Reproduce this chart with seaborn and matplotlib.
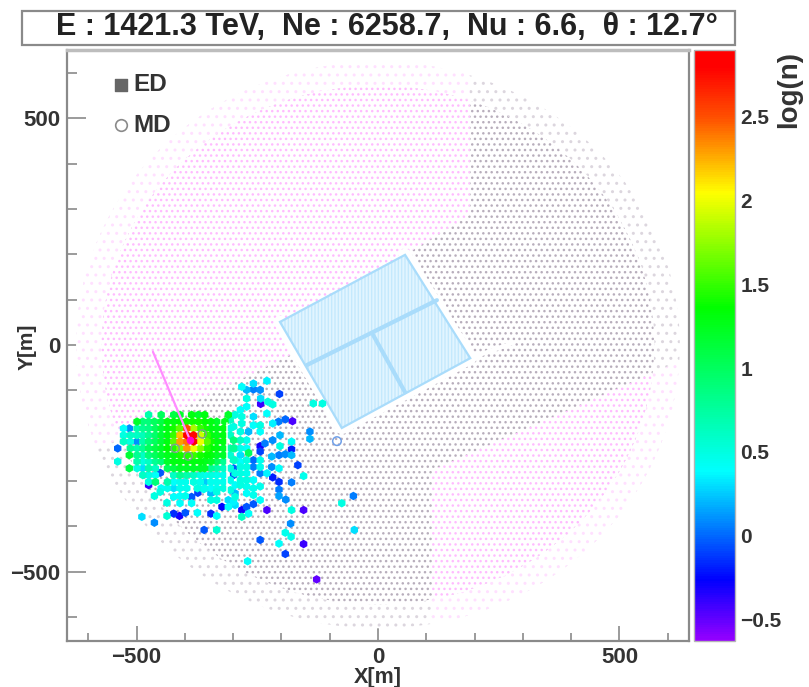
import numpy as np
import pandas as pd
import matplotlib
matplotlib.use("Agg")
import matplotlib.pyplot as plt
from matplotlib.patches import Polygon, Circle, Rectangle
from matplotlib.colors import LinearSegmentedColormap, Normalize
from matplotlib.cm import ScalarMappable
from matplotlib.ticker import MultipleLocator
import seaborn as sns

# ---- values ----
title = "E : 1421.3 TeV,  Ne : 6258.7,  Nu : 6.6,  θ : 12.7°"

# dense shower core, row by row: y, then x and log(n) of each struck detector
core_y = [-154, -169, -184, -199, -213, -228, -243, -257, -272, -287, -302, -316]
core_x = [
    [-475, -449, -423, -410, -386, -372, -359, -310],
    [-499, -487, -475, -463, -449, -436, -423, -410, -397, -384, -372, -359, -346, -334, -317],
    [-527, -515, -499, -487, -475, -461, -449, -436, -423, -411, -396, -382, -368, -359, -346, -334, -320],
    [-527, -513, -499, -487, -475, -461, -449, -436, -423, -410, -396, -382, -368, -354, -346, -334, -320],
    [-527, -513, -499, -487, -475, -461, -449, -436, -423, -410, -396, -382, -368, -354, -346, -334, -320],
    [-539, -513, -499, -487, -475, -461, -449, -436, -423, -410, -396, -382, -368, -354, -346, -334, -320],
    [-515, -499, -487, -475, -461, -449, -436, -423, -410, -396, -382, -368, -354, -346, -334, -320],
    [-539, -499, -487, -475, -461, -449, -436, -423, -410, -396, -382, -368, -359, -346, -334, -320],
    [-515, -499, -487, -475, -461, -436, -423, -410, -396, -382, -368, -359, -346, -334, -320],
    [-487, -475, -461, -423, -410, -396, -382, -368, -359, -346, -334, -320],
    [-475, -461, -436, -423, -410, -399, -382, -368, -359, -346, -334, -320],
    [-449, -436, -423, -410, -396, -374, -359, -346, -334, -320],
]
core_log = [
    [0.7, 1.0, 1.1, 1.2, 1.3, 1.2, 1.3, 1.2],
    [1.2, 0.9, 0.9, 1.0, 1.1, 1.3, 1.3, 1.35, 1.4, 1.4, 1.4, 1.35, 1.3, 1.2, 1.25],
    [0.4, 0.1, 0.7, 0.8, 0.85, 1.0, 1.15, 1.3, 1.4, 1.6, 2.5, 1.8, 1.5, 1.4, 1.3, 1.25, 1.3],
    [0.5, 0.6, 0.6, 0.65, 0.8, 0.95, 1.15, 1.3, 1.5, 2.2, 2.8, 2.75, 1.9, 1.5, 1.3, 1.25, 1.3],
    [0.6, 0.5, 0.1, 0.7, 0.9, 1.0, 1.15, 1.3, 1.6, 2.3, 2.4, 2.85, 2.0, 1.6, 1.4, 1.3, 1.3],
    [0.0, 0.8, 0.7, 0.8, 1.0, 1.1, 1.2, 1.35, 1.45, 1.7, 2.3, 2.0, 1.7, 1.45, 1.35, 1.3, 1.2],
    [1.15, 0.8, 0.6, 0.9, 1.0, 1.15, 1.25, 1.3, 1.4, 1.45, 1.5, 1.4, 1.35, 1.3, 1.2, 1.2],
    [0.5, 0.7, 0.5, 0.6, 0.8, 0.9, 1.2, 1.3, 1.3, 1.3, 1.3, 1.3, 1.25, 1.2, 1.0, 0.8],
    [1.1, 0.5, 0.3, 0.7, 0.6, 1.0, 1.1, 1.2, 1.2, 1.2, 1.2, 1.2, 0.8, 0.7, 0.6],
    [0.6, 0.5, 0.4, 0.6, 0.8, 0.7, 0.6, 0.5, 0.45, 0.5, 0.45, 0.45],
    [0.5, 0.9, 0.7, 0.4, 0.45, 0.45, 0.5, 0.45, 0.25, 0.45, 0.45, 0.45],
    [0.4, 0.45, 0.3, 0.45, 0.45, 0.5, 0.45, 0.4, 0.45, 0.5],
]

# scattered struck detectors away from the core
hit_x = [-230, -282, -258, -258, -272, -244, -204, -243, -243, -272, -228, -218, -230,
         -272, -285, -296, -258, -282, -218, -206, -192, -177, -306, -282, -244, -258, -299,
         -268, -244, -285, -141, -141, -203, -218, -234, -179, -244, -203, -299, -285, -272,
         -244, -179, -220, -205, -192, -179, -268, -285, -299, -258, -244, -258, -244, -166,
         -220, -205, -299, -299, -285, -272, -299, -244, -230, -218, -205, -179, -154, -272,
         -258, -285, -205, -205, -191, -272, -296, -258, -272, -282, -244, -258, -299, -310,
         -323, -310, -296, -230, -179, -154, -268, -282, -51, -75, -181, -49, -192, -180, -205,
         -154, -244, -192, -270, -127, -360, -334, -134, -115, -489, -463, -411, -423, -399,
         -437, -374, -346, -334, -386, -373, -410, -437, -423, -451, -463, -410, -399, -386,
         -346, -361, -334, -346, -334, -475, -451,
         -306, -306, -306, -296, -285, -272, -306, -296, -285, -272, -296, -285, -272, -306,
         -306, -296, -285, -272, -258, -244, -306, -296]
hit_y = [-79, -92, -85, -98, -99, -99, -108, -118, -130, -118, -125, -131, -151,
         -136, -143, -154, -158, -158, -173, -169, -164, -168, -165, -173, -177, -177, -180,
         -191, -191, -191, -191, -207, -199, -210, -217, -213, -223, -223, -210, -210, -210,
         -235, -230, -246, -243, -241, -243, -238, -243, -228, -254, -254, -269, -269, -265,
         -269, -272, -272, -287, -269, -269, -254, -283, -283, -292, -302, -303, -289, -298,
         -316, -298, -319, -333, -341, -327, -327, -351, -357, -364, -342, -331, -346, -342,
         -357, -357, -353, -364, -364, -364, -372, -379, -333, -349, -394, -408, -414, -423, -438,
         -439, -430, -461, -477, -517, -408, -408, -129, -129, -379, -392, -377, -372, -370,
         -377, -370, -372, -377, -335, -326, -349, -348, -335, -324, -333, -333, -333, -349,
         -327, -318, -324, -342, -342, -309, -282,
         -184, -199, -228, -228, -228, -228, -243, -254, -258, -254, -283, -283, -283, -272,
         -298, -309, -309, -312, -298, -312, -320, -335]
hit_log = [0.35, 0.4, 0.3, 0.05, 0.2, 0.1, -0.1, 0.3, -0.4, 0.5, 0.5, 0.5, 0.4,
           0.4, 0.4, 0.5, 0.3, 0.5, 0.35, 0.05, 0.0, -0.45, 0.6, 0.5, 0.5, 0.4, 0.5,
           0.2, 0.4, 0.5, 0.1, 0.2, 0.2, 0.1, 0.05, 0.4, -0.3, 0.5, 0.9, 0.6, 0.45,
           -0.1, -0.2, 0.2, 0.05, 0.1, 0.2, 1.0, 0.3, 0.8, 0.0, 0.45, 0.05, 0.45, -0.1,
           0.1, 0.4, -0.05, -0.1, 0.5, 0.5, 0.6, 0.05, 0.35, -0.2, -0.15, 0.05, 0.45, 0.5,
           0.45, 0.5, 0.05, 0.15, 0.1, 0.4, 0.2, -0.05, -0.05, -0.3, 0.4, 0.45, 0.35, 0.3,
           -0.25, 0.4, 0.3, -0.45, 0.5, -0.45, 0.4, 0.6, 0.05, 0.5, 0.1, 0.3, 0.45, 0.45, 0.4,
           -0.4, -0.05, -0.1, 0.4, -0.5, -0.05, 0.55, 0.5, 0.5, 0.3, 0.1, -0.3, -0.15, -0.05,
           0.55, 0.4, -0.15, 0.4, -0.05, -0.1, 0.4, 0.5, 0.4, 0.5, 0.5, 0.4, 0.45, 0.4,
           0.2, 0.45, 0.5, 0.5, 0.5, -0.4, -0.05,
           0.5, 0.6, 0.7, 0.5, 0.45, 0.4, 0.55, 0.5, 0.4, 0.5, 0.5, 0.5, 0.45, 0.5,
           0.45, 0.4, 0.5, 0.45, 0.4, 0.45, 0.5, 0.5]

# fired muon detectors (open rings)
md_x = [-420, -393, -364, -85]
md_y = [-228, -245, -196, -212]

# detector-field outlines
r_outer, r_inner = 625, 572
pink_upper = [(-800, -345), (-182, -22), (-203, 51), (56, 199), (190, 287), (190, 800), (-800, 800)]
pink_lower = [(112, -276), (569, -62), (800, 46), (800, -800), (112, -800)]
pond = [(-203, 51), (56, 199), (191, -29), (-75, -183)]
moat_edges = ([56, 191, -75, -203], [199, -29, -183, 51])
moat_spur = ([191, 280], [-29, 5])
pond_div_a = ([-147, 122], [-44, 99])
pond_div_b = ([-10, 56], [22, -104])
shower_axis = ([-466, -389], [-15, -210])
gap_line = ([-313, -313], [-173, -327])

cbar_ticks = [-0.5, 0, 0.5, 1, 1.5, 2, 2.5]
cbar_labels = ["\u22120.5", "0", "0.5", "1", "1.5", "2", "2.5"]
xy_major = [-500, 0, 500]
xy_major_labels = ["\u2212500", "0", "500"]

vmin, vmax = -0.63, 2.9
cstops = [(-0.63, "#9400ff"), (-0.27, "#0000ff"), (0.38, "#00ffff"), (1.36, "#00ff00"),
          (2.05, "#ffff00"), (2.5, "#ff5000"), (2.8, "#ff0000"), (2.9, "#ff0000")]

# ---- assembling ----
W, H = 809, 687
sns.set_theme(style="white")
FONT = ["Liberation Sans", "DejaVu Sans"]
plt.rcParams["font.family"] = FONT
plt.rcParams["font.weight"] = "bold"
plt.rcParams["hatch.linewidth"] = 1.0
DARK, FRAME = "#333333", "#8a8a8a"
PINK, GREY = "#ffbcff", "#b8aebc"
PINK_RING, GREY_RING = "#ffe0ff", "#dcd6de"

fig = plt.figure(figsize=(W / 100, H / 100), dpi=100)
ax = fig.add_axes([67 / W, 1 - 641 / H, (689 - 67) / W, (641 - 50) / H])
ax.set_xlim(-644, 644)
ax.set_ylim(-653, 651)


def field(verts, color, hatch, clip, z):
    p = Polygon(verts, closed=True, facecolor="white", edgecolor=color, hatch=hatch, lw=0, zorder=z)
    ax.add_patch(p)
    p.set_clip_path(clip)


square = [(-800, -800), (800, -800), (800, 800), (-800, 800)]
outer = Circle((0, 0), r_outer, transform=ax.transData)
inner = Circle((0, 0), r_inner, transform=ax.transData)
field(square, GREY_RING, "..", outer, 1)
field(pink_upper, PINK_RING, "..", outer, 1.1)
field(pink_lower, PINK_RING, "..", outer, 1.1)
ax.add_patch(Circle((0, 0), r_inner, facecolor="white", edgecolor="none", zorder=1.2))
field(square, GREY, "...", inner, 1.3)
field(pink_upper, PINK, "...", inner, 1.4)
field(pink_lower, PINK, "...", inner, 1.4)

# white moat along the grey-field sides and the pond
ax.plot(*moat_edges, color="white", lw=9, zorder=2)
ax.plot(*moat_spur, color="white", lw=3, zorder=2)
ax.add_patch(Polygon(pond, closed=True, facecolor="#e2f5ff", edgecolor="#c4e9fd", hatch="|||||", lw=0, zorder=2.1))
ax.add_patch(Polygon(pond, closed=True, fill=False, edgecolor="#a9dcfb", lw=1.6, zorder=2.2))
ax.plot(*pond_div_a, color="#a9dcfb", lw=3, zorder=2.3)
ax.plot(*pond_div_b, color="#a9dcfb", lw=3, zorder=2.3)

core_df = pd.DataFrame({
    "x": [v for row in core_x for v in row],
    "y": [yy for yy, row in zip(core_y, core_x) for _ in row],
    "log_n": [v for row in core_log for v in row],
})
hits = pd.concat([pd.DataFrame({"x": hit_x, "y": hit_y, "log_n": hit_log}), core_df], ignore_index=True)

norm = Normalize(vmin, vmax)
cmap = LinearSegmentedColormap.from_list("rootrainbow", [((v - vmin) / (vmax - vmin), c) for v, c in cstops])
sns.scatterplot(data=hits.sort_values("log_n"), x="x", y="y", hue="log_n", palette=cmap, hue_norm=norm,
                marker="h", s=38, linewidth=0, legend=False, ax=ax, zorder=3)

ax.plot(*gap_line, color="white", lw=1.3, alpha=0.8, zorder=3.5)
ax.plot(*shower_axis, color="#ff8cff", lw=1.6, zorder=3.6)
ax.plot(shower_axis[0][1], shower_axis[1][1], marker="o", ms=4.5, color="#ff00d0", zorder=3.7)
sns.scatterplot(x=md_x[:3], y=md_y[:3], marker="o", s=34, facecolor="none", edgecolor="#7f9f8f", linewidth=1, ax=ax, zorder=4)
sns.scatterplot(x=md_x[3:], y=md_y[3:], marker="o", s=38, facecolor="none", edgecolor="#6f9fe8", linewidth=1.1, ax=ax, zorder=4)

# axes furniture
ax.set_xticks(xy_major, xy_major_labels)
ax.set_yticks(xy_major, xy_major_labels)
ax.xaxis.set_minor_locator(MultipleLocator(100))
ax.yaxis.set_minor_locator(MultipleLocator(100))
ax.tick_params(axis="x", which="major", direction="in", length=11, width=1.2, color=FRAME, labelsize=16, labelcolor=DARK, pad=4, bottom=True)
ax.tick_params(axis="x", which="minor", direction="in", length=6, width=1.2, color=FRAME, bottom=True)
ax.tick_params(axis="y", which="major", direction="in", length=14, width=1.2, color=FRAME, labelsize=16, labelcolor=DARK, pad=5, left=True)
ax.tick_params(axis="y", which="minor", direction="in", length=7, width=1.2, color=FRAME, left=True)
for s in ax.spines.values():
    s.set_color(FRAME)
    s.set_linewidth(1.6)
ax.spines["top"].set_color("#bdbdbd")
ax.spines["top"].set_linewidth(2.5)
ax.set_xlabel("")
ax.set_ylabel("")
fig.text(378 / W, 1 - 678 / H, "X[m]", ha="center", va="center", fontsize=15.5, color=DARK, fontweight="bold")
fig.text(27 / W, 1 - 347 / H, "Y[m]", ha="center", va="center", rotation=90, fontsize=15, color=DARK, fontweight="bold")

# legend
ax.scatter([0.0868], [0.941], transform=ax.transAxes, marker="s", s=65, color="#666666", zorder=5, clip_on=False)
ax.scatter([0.0868], [0.873], transform=ax.transAxes, marker="o", s=70, facecolor="white", edgecolor="#8a8a8a", linewidth=1.2, zorder=5)
ax.text(0.106, 0.941, "ED", transform=ax.transAxes, va="center", ha="left", fontsize=17.5, color=DARK, fontweight="bold")
ax.text(0.106, 0.873, "MD", transform=ax.transAxes, va="center", ha="left", fontsize=17.5, color=DARK, fontweight="bold")

# colour bar
cax = fig.add_axes([694 / W, 1 - 641 / H, (735 - 694) / W, (641 - 50) / H])
cb = fig.colorbar(ScalarMappable(norm=norm, cmap=cmap), cax=cax)
cb.set_ticks(cbar_ticks, labels=cbar_labels)
cb.minorticks_off()
cax.tick_params(direction="in", length=14, width=1.1, color=DARK, labelsize=15, labelcolor=DARK, pad=4, right=True)
cb.outline.set_edgecolor("#b5b5b5")
cb.outline.set_linewidth(1.0)
fig.text(789 / W, 1 - 90 / H, "log(n)", rotation=90, ha="center", va="center", fontsize=20, color=DARK, fontweight="bold")

# title box
fig.add_artist(Rectangle((22 / W, 1 - 45 / H), (735 - 22) / W, 34 / H, transform=fig.transFigure,
                         facecolor="white", edgecolor=FRAME, lw=1.6))
fig.text(387 / W, 1 - 27 / H, title, ha="center", va="center", fontsize=22, color="#222222", fontweight="bold")

fig.savefig("out.png", dpi=100)
